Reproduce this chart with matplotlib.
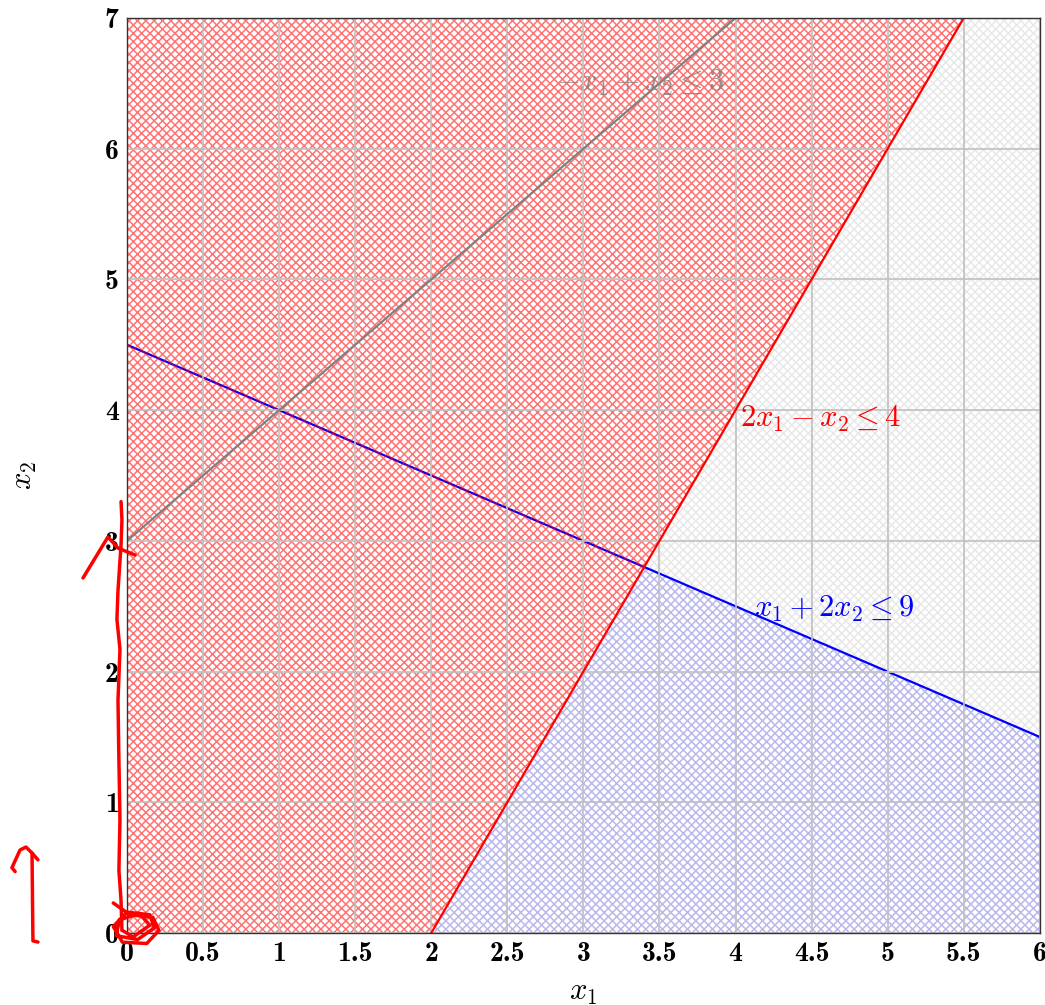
import matplotlib
matplotlib.use("Agg")
import matplotlib.pyplot as plt

plt.rcParams['mathtext.fontset'] = 'cm'
plt.rcParams['hatch.linewidth'] = 1.1

# ---------- data ----------
x_ticks = [0, 0.5, 1, 1.5, 2, 2.5, 3, 3.5, 4, 4.5, 5, 5.5, 6]
x_tick_labels = ["0", "0.5", "1", "1.5", "2", "2.5", "3", "3.5", "4", "4.5", "5", "5.5", "6"]
y_ticks = [0, 1, 2, 3, 4, 5, 6, 7]
y_tick_labels = ["0", "1", "2", "3", "4", "5", "6", "7"]

# constraint boundary lines (end points inside the window)
gray_x = [0, 4]
gray_y = [3, 7]
blue_x = [0, 6]
blue_y = [4.5, 1.5]
red_x = [2, 5.5]
red_y = [0, 7]

# shaded (feasible) sides of each constraint
gray_region_x = [0, 4, 6]
gray_region_top = [3, 7, 7]
blue_region_x = [0, 6]
blue_region_top = [4.5, 1.5]
red_region_y = [0, 7]
red_region_right = [2, 5.5]

# hand-drawn red annotations
scrib_line_x = [-0.039, -0.033, -0.039, -0.059, -0.066, -0.046, -0.059, -0.053, -0.046, -0.053, -0.039, -0.033]
scrib_line_y = [3.30, 3.16, 2.97, 2.62, 2.40, 2.17, 1.78, 1.32, 0.87, 0.48, 0.25, 0.02]
scrib_caret_x = [-0.289, -0.125, -0.059, 0.053]
scrib_caret_y = [2.716, 3.030, 2.945, 2.892]
scrib_loop_x = [-0.09, 0.02, 0.17, 0.21, 0.13, -0.03, -0.09, 0.00, 0.15, 0.18, 0.07, -0.07, -0.05, 0.08, 0.15, 0.04, -0.03]
scrib_loop_y = [0.23, 0.14, 0.12, 0.02, -0.08, -0.07, 0.05, 0.16, 0.14, 0.04, -0.05, -0.02, 0.10, 0.15, 0.06, -0.03, 0.02]
scrib_arrow_x = [-0.585, -0.618, -0.621, -0.624, -0.664, -0.703, -0.756, -0.735]
scrib_arrow_y = [-0.069, -0.060, 0.252, 0.612, 0.658, 0.635, 0.500, 0.470]
scrib_tick_x = [-0.624, -0.585]
scrib_tick_y = [0.612, 0.560]

# ---------- plot ----------
fig = plt.figure(figsize=(10.45, 10.05), dpi=100)
ax = fig.add_axes([0.1215, 0.0716, 0.8735, 0.9105])

ax.fill_between(gray_region_x, 0, gray_region_top, facecolor='none', edgecolor='gray',
                hatch='xxxx', linewidth=0, alpha=0.18, zorder=1)

ax.fill_between(blue_region_x, 0, blue_region_top, facecolor='none', edgecolor='blue',
                hatch='xxxx', linewidth=0, alpha=0.2, zorder=1.1)

# red side covers what lies under it
ax.fill_betweenx(red_region_y, 0, red_region_right, facecolor='white', linewidth=0, zorder=1.2)
ax.plot(blue_x, blue_y, color='blue', linewidth=1.6, zorder=1.25)
ax.fill_betweenx(red_region_y, 0, red_region_right, facecolor='none', edgecolor='red',
                 hatch='xxxx', linewidth=0, alpha=0.55, zorder=1.3)

ax.plot(red_x, red_y, color='red', linewidth=1.6, zorder=2)
ax.plot(gray_x, gray_y, color='gray', linewidth=1.6, zorder=2)

ax.text(3.93, 6.5, r'$-x_1 + x_2 \leq 3$', color='gray', fontsize=22, ha='right', va='center',
        alpha=0.85, zorder=1.35)
ax.text(4.03, 3.93, r'$2x_1 - x_2 \leq 4$', color='red', fontsize=22, ha='left', va='center')
ax.text(4.12, 2.48, r'$x_1 + 2x_2 \leq 9$', color='blue', fontsize=22, ha='left', va='center')

ax.set_xlim(0, 6)
ax.set_ylim(0, 7)
ax.set_xticks(x_ticks)
ax.set_xticklabels(x_tick_labels)
ax.set_yticks(y_ticks)
ax.set_yticklabels(y_tick_labels)
for lbl in ax.get_xticklabels() + ax.get_yticklabels():
    lbl.set_fontfamily('cmb10')
    lbl.set_fontsize(20)
ax.tick_params(length=0, pad=6)
ax.grid(True, color='#c0c0c0', linewidth=1.2)
ax.set_axisbelow('line')
for g in ax.get_xgridlines() + ax.get_ygridlines():
    g.set_zorder(1.5)
for s in ax.spines.values():
    s.set_linewidth(1.0)
    s.set_color('#333333')

ax.set_xlabel(r'$x_1$', fontsize=22, va='center')
ax.set_ylabel(r'$x_2$', fontsize=22, va='center')
ax.xaxis.set_label_coords(0.5, -0.065)
ax.yaxis.set_label_coords(-0.112, 0.5)

# red pen marks
for sx, sy in [(scrib_line_x, scrib_line_y), (scrib_caret_x, scrib_caret_y),
               (scrib_loop_x, scrib_loop_y), (scrib_arrow_x, scrib_arrow_y),
               (scrib_tick_x, scrib_tick_y)]:
    ax.plot(sx, sy, color='red', linewidth=2.5, clip_on=False, zorder=5,
            solid_capstyle='round', solid_joinstyle='round')

fig.savefig("out.png", dpi=100)
